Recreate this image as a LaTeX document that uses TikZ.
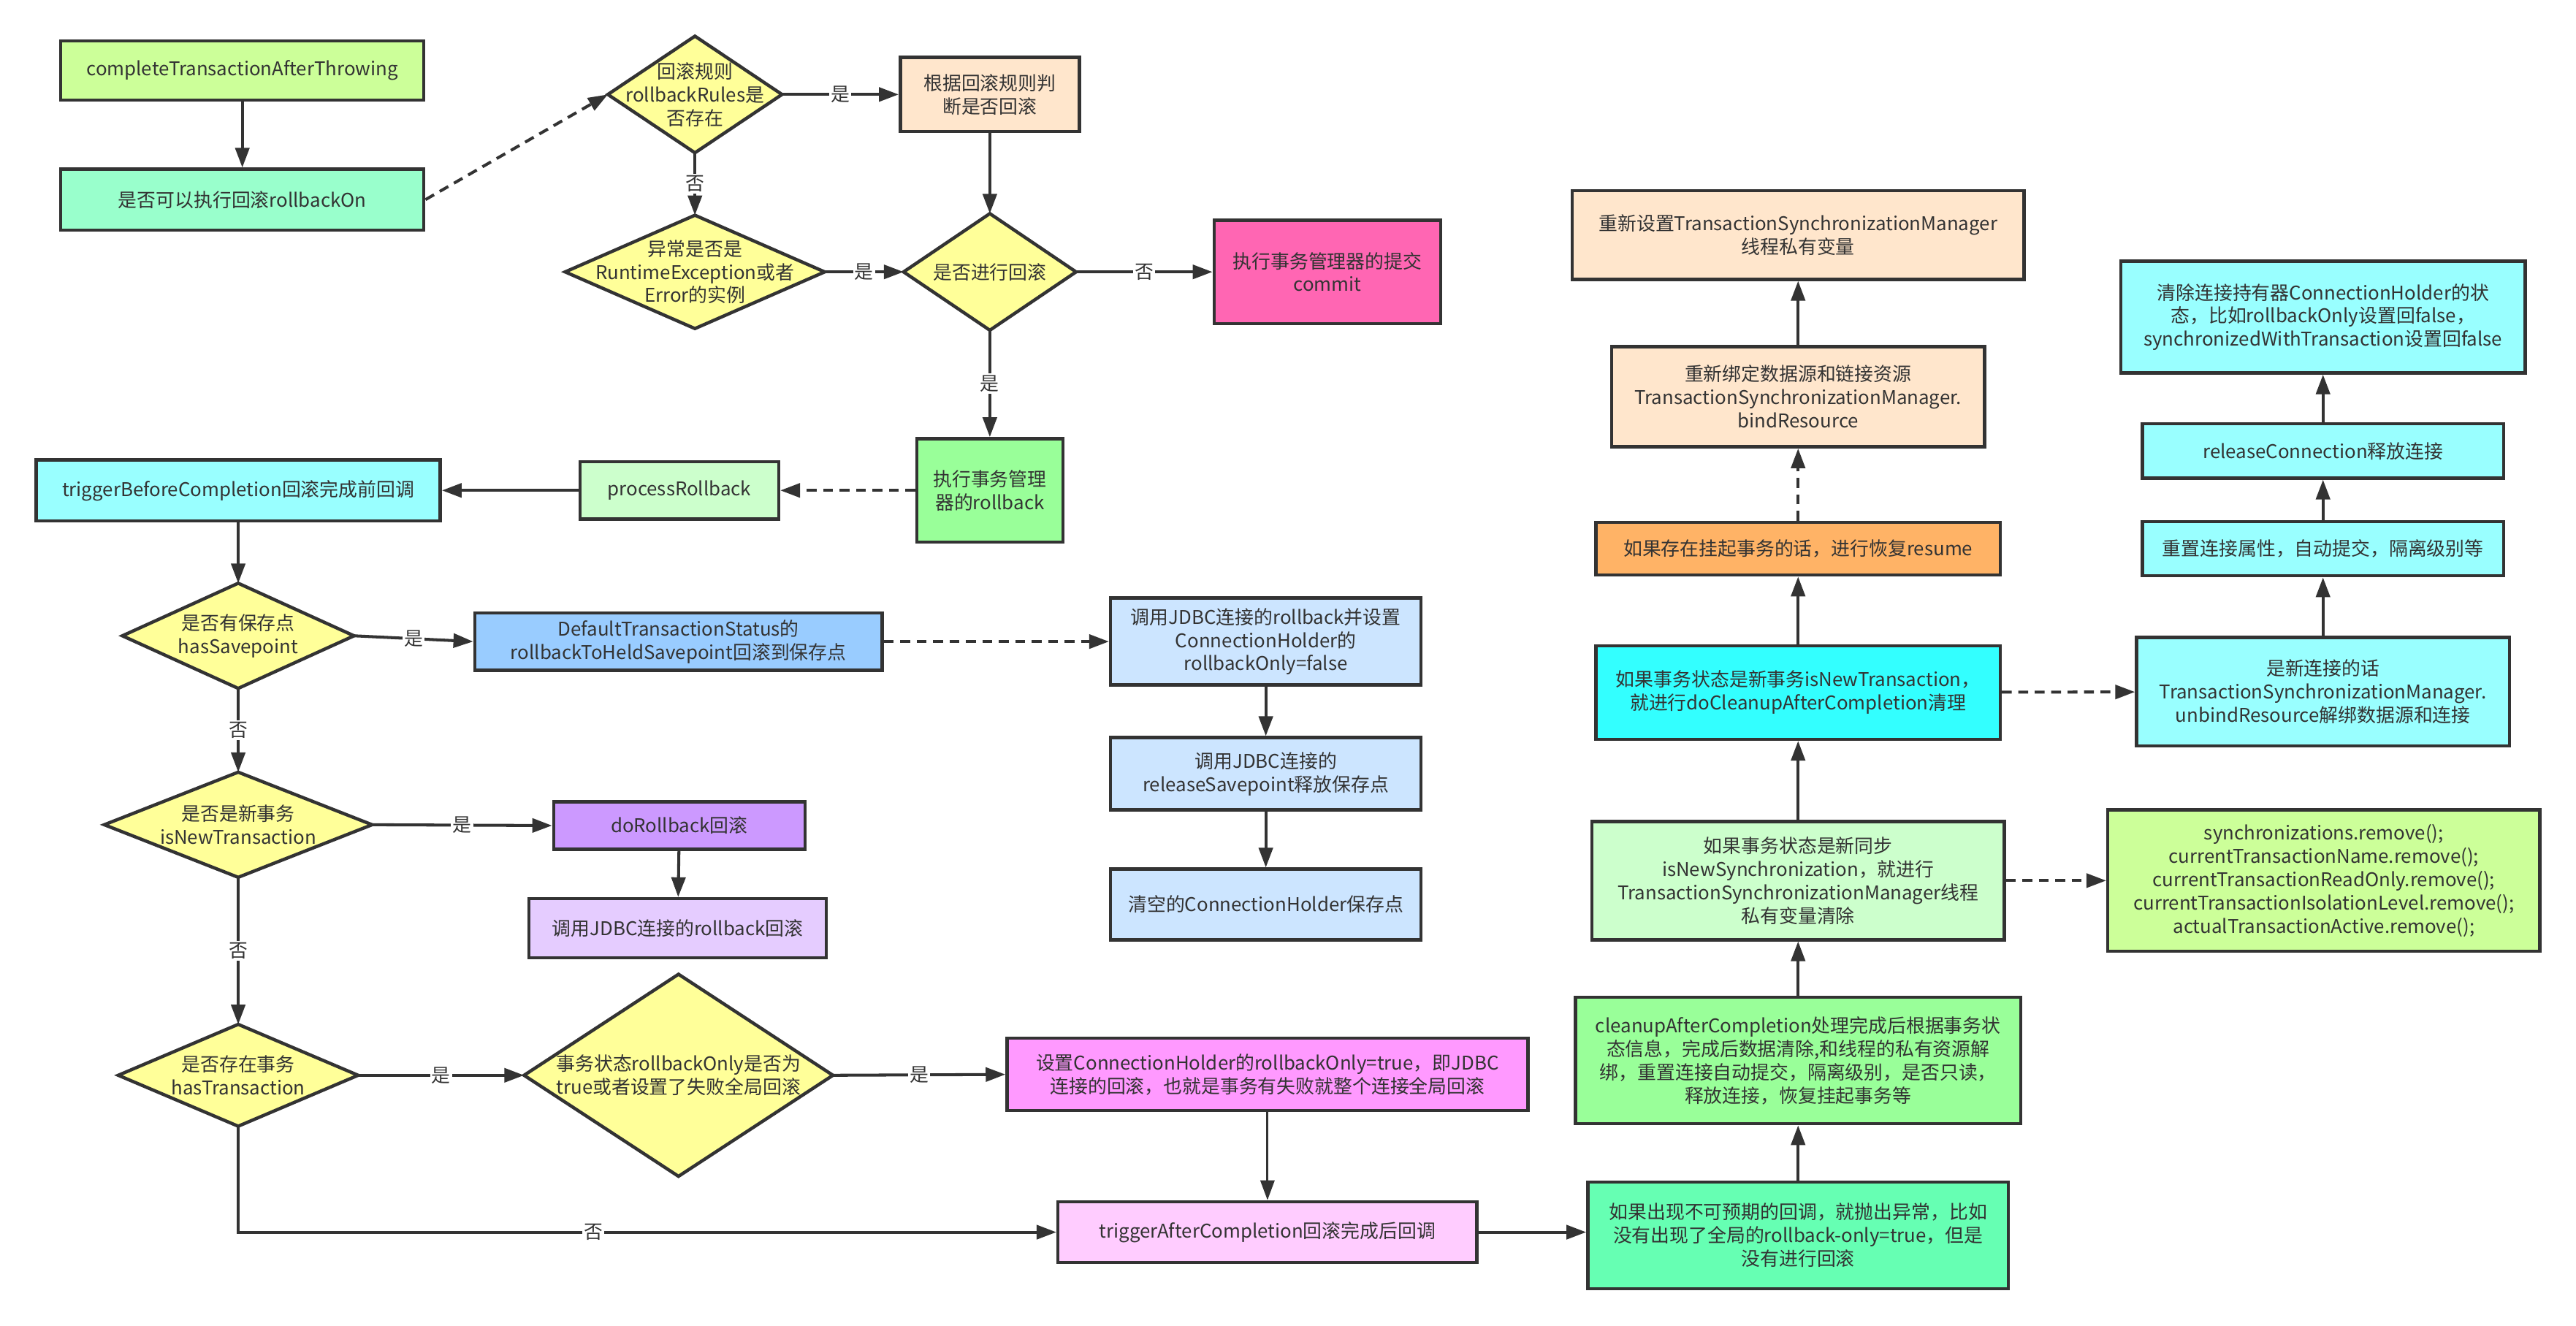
\documentclass[tikz,border=0pt]{standalone}
\usepackage{fontspec}
\setmainfont{Noto Sans CJK SC}
\usetikzlibrary{shapes.geometric,arrows.meta}
\definecolor{ink}{HTML}{333333}
\definecolor{cLime}{HTML}{CCFF99}
\definecolor{cMint}{HTML}{99FFCC}
\definecolor{cYel}{HTML}{FFFF99}
\definecolor{cPeach}{HTML}{FFE6CC}
\definecolor{cPink}{HTML}{FF66B3}
\definecolor{cGreen}{HTML}{99FF99}
\definecolor{cPaleGreen}{HTML}{CCFFCC}
\definecolor{cCyan}{HTML}{99FFFF}
\definecolor{cBlue}{HTML}{99CCFF}
\definecolor{cPaleBlue}{HTML}{CCE5FF}
\definecolor{cPurple}{HTML}{CC99FF}
\definecolor{cLilac}{HTML}{E5CCFF}
\definecolor{cMagenta}{HTML}{FF99FF}
\definecolor{cPalePink}{HTML}{FFCCFF}
\definecolor{cSea}{HTML}{66FFB3}
\definecolor{cAqua}{HTML}{33FFFF}
\definecolor{cOrange}{HTML}{FFB366}
\begin{document}
\begin{tikzpicture}[x=1pt,y=-1pt,
  box/.style={draw=ink, line width=2pt, align=center, inner sep=2pt, text=ink,
    font=\fontsize{11.5}{14.2}\selectfont},
  dia/.style={diamond, draw=ink, line width=2pt, fill=cYel, inner sep=0pt, outer sep=0pt},
  dtxt/.style={align=center, text=ink, inner sep=0pt, font=\fontsize{11.5}{14.2}\selectfont},
  conn/.style={draw=ink, line width=1.8pt, -{Triangle[length=12pt,width=8.5pt]}},
  dconn/.style={conn, dash pattern=on 6pt off 4pt},
  lbl/.style={fill=white, text=ink, inner sep=1pt, font=\fontsize{11.5}{12}\selectfont}]
\useasboundingbox[fill=white] (0,0) rectangle (1568,807);

% left top
\node[box, fill=cLime, minimum width=221pt, minimum height=36pt] (b1) at (147.5,43) {completeTransactionAfterThrowing};
\node[box, fill=cMint, minimum width=221pt, minimum height=37pt] (b2) at (147.5,121.5) {是否可以执行回滚rollbackOn};
\node[dia, minimum width=106pt, minimum height=71pt] (d3) at (423,57.5) {};
\node[dtxt] (d3t) at (d3) {回滚规则\\rollbackRules是\\否存在};
\node[box, fill=cPeach, minimum width=109pt, minimum height=45pt] (b5) at (602.5,57.5) {根据回滚规则判\\断是否回滚};
\node[dia, minimum width=158pt, minimum height=69pt] (d6) at (423,165.5) {};
\node[dtxt] (d6t) at (d6) {异常是否是\\RuntimeException或者\\Error的实例};
\node[dia, minimum width=105pt, minimum height=71pt] (d7) at (602.5,165.5) {};
\node[dtxt] (d7t) at (d7) {是否进行回滚};
\node[box, fill=cPink, minimum width=138pt, minimum height=63pt] (b8) at (808,165.5) {执行事务管理器的提交\\commit};
\node[box, fill=cGreen, minimum width=89pt, minimum height=63pt] (b9) at (602.5,298.5) {执行事务管理\\器的rollback};
\node[box, fill=cPaleGreen, minimum width=121pt, minimum height=35pt] (b10) at (413.5,298.5) {processRollback};
\node[box, fill=cCyan, minimum width=246pt, minimum height=37pt] (b11) at (145,298.5) {triggerBeforeCompletion回滚完成前回调};

% savepoint branch
\node[dia, minimum width=141pt, minimum height=64pt] (d12) at (145,387) {};
\node[dtxt] (d12t) at (d12) {是否有保存点\\hasSavepoint};
\node[box, fill=cBlue, minimum width=248pt, minimum height=35pt] (b13) at (413,390.5) {DefaultTransactionStatus的\\rollbackToHeldSavepoint回滚到保存点};
\node[box, fill=cPaleBlue, minimum width=189pt, minimum height=53pt] (b14) at (770.5,390.5) {调用JDBC连接的rollback并设置\\ConnectionHolder的\\rollbackOnly=false};
\node[box, fill=cPaleBlue, minimum width=189pt, minimum height=44pt] (b15) at (770.5,471) {调用JDBC连接的\\releaseSavepoint释放保存点};
\node[box, fill=cPaleBlue, minimum width=189pt, minimum height=43pt] (b16) at (770.5,550.5) {清空的ConnectionHolder保存点};

% new transaction branch
\node[dia, minimum width=163pt, minimum height=64pt] (d17) at (145,502) {};
\node[dtxt] (d17t) at (d17) {是否是新事务\\isNewTransaction};
\node[box, fill=cPurple, minimum width=153pt, minimum height=29pt] (b18) at (413.5,502.5) {doRollback回滚};
\node[box, fill=cLilac, minimum width=181pt, minimum height=36pt] (b19) at (412.5,565) {调用JDBC连接的rollback回滚};

% has transaction branch
\node[dia, minimum width=146pt, minimum height=62pt] (d20) at (145,654.5) {};
\node[dtxt] (d20t) at (d20) {是否存在事务\\hasTransaction};
\node[dia, minimum width=188pt, minimum height=123pt] (d21) at (413,654.5) {};
\node[dtxt] (d21t) at (d21) {事务状态rollbackOnly是否为\\true或者设置了失败全局回滚};
\node[box, fill=cMagenta, minimum width=317pt, minimum height=44pt] (b22) at (771.5,654) {设置ConnectionHolder的rollbackOnly=true，即JDBC\\连接的回滚，也就是事务有失败就整个连接全局回滚};
\node[box, fill=cPalePink, minimum width=255pt, minimum height=37pt] (b23) at (771.5,750) {triggerAfterCompletion回滚完成后回调};

% middle-right column
\node[box, fill=cSea, minimum width=256pt, minimum height=65pt] (b24) at (1094.5,752) {如果出现不可预期的回调，就抛出异常，比如\\没有出现了全局的rollback-only=true，但是\\没有进行回滚};
\node[box, fill=cGreen, minimum width=271pt, minimum height=77pt] (b25) at (1094.5,645.5) {cleanupAfterCompletion处理完成后根据事务状\\态信息，完成后数据清除,和线程的私有资源解\\绑，重置连接自动提交，隔离级别，是否只读，\\释放连接，恢复挂起事务等};
\node[box, fill=cPaleGreen, minimum width=251pt, minimum height=72pt] (b26) at (1094.5,536) {如果事务状态是新同步\\isNewSynchronization，就进行\\TransactionSynchronizationManager线程\\私有变量清除};
\node[box, fill=cLime, minimum width=263pt, minimum height=86pt] (b27) at (1414.5,536) {synchronizations.remove();\\currentTransactionName.remove();\\currentTransactionReadOnly.remove();\\currentTransactionIsolationLevel.remove();\\actualTransactionActive.remove();};
\node[box, fill=cAqua, minimum width=246pt, minimum height=57pt] (b28) at (1094.5,421.5) {如果事务状态是新事务isNewTransaction，\\就进行doCleanupAfterCompletion清理};
\node[box, fill=cCyan, minimum width=227pt, minimum height=66pt] (b29) at (1414,421) {是新连接的话\\TransactionSynchronizationManager.\\unbindResource解绑数据源和连接};
\node[box, fill=cCyan, minimum width=220pt, minimum height=33pt] (b30) at (1414,334) {重置连接属性，自动提交，隔离级别等};
\node[box, fill=cCyan, minimum width=220pt, minimum height=33pt] (b31) at (1414,274.5) {releaseConnection释放连接};
\node[box, fill=cCyan, minimum width=246pt, minimum height=68pt] (b32) at (1414,193) {清除连接持有器ConnectionHolder的状\\态，比如rollbackOnly设置回false，\\synchronizedWithTransaction设置回false};
\node[box, fill=cOrange, minimum width=246pt, minimum height=32pt] (b33) at (1094.5,334) {如果存在挂起事务的话，进行恢复resume};
\node[box, fill=cPeach, minimum width=227pt, minimum height=61pt] (b34) at (1094.5,241.5) {重新绑定数据源和链接资源\\TransactionSynchronizationManager.\\bindResource};
\node[box, fill=cPeach, minimum width=275pt, minimum height=54pt] (b35) at (1094.5,143) {重新设置TransactionSynchronizationManager\\线程私有变量};

% connectors
\draw[conn] (b1) -- (b2);
\draw[dconn] (b2.east) -- (d3.west);
\draw[conn] (d3.east) -- node[lbl] {是} (b5.west);
\draw[conn] (d3.south) -- node[lbl] {否} (d6.north);
\draw[conn] (d6.east) -- node[lbl] {是} (d7.west);
\draw[conn] (b5.south) -- (d7.north);
\draw[conn] (d7.east) -- node[lbl] {否} (b8.west);
\draw[conn] (d7.south) -- node[lbl] {是} (b9.north);
\draw[dconn] (b9.west) -- (b10.east);
\draw[conn] (b10.west) -- (b11.east);
\draw[conn] (b11.south) -- (d12.north);
\draw[conn] (d12.east) -- node[lbl] {是} (b13.west);
\draw[conn] (d12.south) -- node[lbl] {否} (d17.north);
\draw[dconn] (b13.east) -- (b14.west);
\draw[conn] (b14) -- (b15);
\draw[conn] (b15) -- (b16);
\draw[conn] (d17.east) -- node[lbl] {是} (b18.west);
\draw[conn] (b18) -- (b19);
\draw[conn] (d17.south) -- node[lbl] {否} (d20.north);
\draw[conn] (d20.east) -- node[lbl] {是} (d21.west);
\draw[conn] (d21.east) -- node[lbl] {是} (b22.west);
\draw[conn, line width=1.3pt] (b22) -- (b23);
\draw[conn] (d20.south) |- node[lbl, pos=0.717] {否} (b23.west);
\draw[conn] (b23.east) -- (b24.west |- b23.east);
\draw[conn] (b24) -- (b25);
\draw[conn] (b25) -- (b26);
\draw[dconn] (b26) -- (b27);
\draw[conn] (b26) -- (b28);
\draw[dconn] (b28) -- (b29);
\draw[conn] (b29) -- (b30);
\draw[conn] (b30) -- (b31);
\draw[conn] (b31) -- (b32);
\draw[conn] (b28) -- (b33);
\draw[dconn] (b33) -- (b34);
\draw[conn] (b34) -- (b35);
\end{tikzpicture}
\end{document}
